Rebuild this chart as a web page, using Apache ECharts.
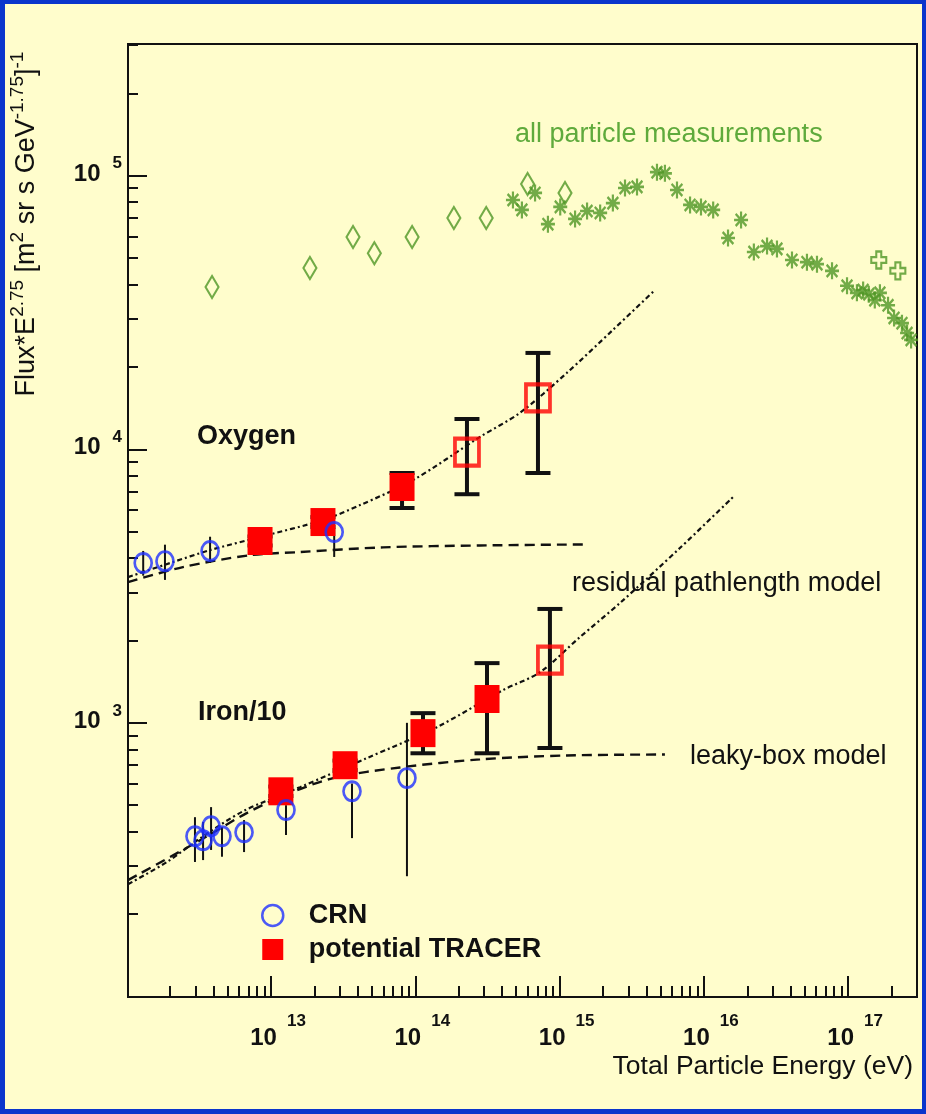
<!DOCTYPE html>
<html>
<head>
<meta charset="utf-8">
<title>Oxygen and iron spectra with TRACER reach</title>
<script src="https://cdn.jsdelivr.net/npm/echarts@6.0.0/dist/echarts.min.js"></script>
<style>
  html, body { margin: 0; padding: 0; background: #0a35cc; }
  #chart { width: 926px; height: 1114px; }
</style>
</head>
<body>
<div id="chart"></div>
<script>
// ---------------- data ----------------
// All-particle spectrum, Flux*E^2.75 vs total energy (eV)
const allDiamondEnergy = [3.9e12, 1.86e13, 3.7e13, 5.2e13, 9.5e13, 1.85e14, 3.1e14, 6.0e14, 1.09e15];
const allDiamondFlux   = [3.92e4, 4.6e4, 5.97e4, 5.21e4, 5.97e4, 7.0e4, 7.0e4, 9.33e4, 8.65e4];
const allStarEnergy = [4.75e14, 5.48e14, 6.76e14, 8.3e14, 1.01e15, 1.28e15, 1.55e15, 1.91e15, 2.34e15, 2.84e15,
                       3.44e15, 4.73e15, 5.37e15, 6.51e15, 8.02e15, 9.55e15, 1.16e16, 1.47e16, 1.81e16, 2.22e16,
                       2.74e16, 3.21e16, 4.08e16, 5.18e16, 6.08e16, 7.73e16, 9.82e16, 1.15e17, 1.27e17, 1.39e17,
                       1.53e17, 1.66e17, 1.89e17, 2.08e17, 2.36e17, 2.56e17, 2.73e17];
const allStarFlux   = [8.15e4, 7.5e4, 8.65e4, 6.65e4, 7.69e4, 6.95e4, 7.43e4, 7.31e4, 7.94e4, 9.02e4,
                       9.1e4, 1.03e5, 1.02e5, 8.87e4, 7.82e4, 7.69e4, 7.5e4, 5.92e4, 6.89e4, 5.26e4,
                       5.53e4, 5.4e4, 4.92e4, 4.83e4, 4.75e4, 4.49e4, 3.96e4, 3.73e4, 3.82e4, 3.69e4,
                       3.51e4, 3.73e4, 3.36e4, 3.02e4, 2.89e4, 2.66e4, 2.51e4];
const allCrossEnergy = [1.63e17, 2.21e17];
const allCrossFlux   = [4.92e4, 4.49e4];

// Oxygen
const oxygenCrnEnergy = [1.30e12, 1.84e12, 3.78e12, 2.74e13];
const oxygenCrnFlux   = [3.84e3, 3.90e3, 4.25e3, 4.98e3];
const oxygenCrnLow    = [3.45e3, 3.33e3, 3.84e3, 4.04e3];
const oxygenCrnHigh   = [4.25e3, 4.48e3, 4.79e3, 5.16e3];

const oxygenTracerEnergy = [8.39e12, 2.29e13, 8.09e13];
const oxygenTracerFlux   = [4.62e3, 5.42e3, 7.28e3];
const oxygenTracerLow    = [4.45e3, 5.2e3, 6.10e3];
const oxygenTracerHigh   = [4.8e3, 5.65e3, 8.19e3];
const oxygenProjEnergy = [2.28e14, 7.08e14];
const oxygenProjFlux   = [9.77e3, 1.54e4];
const oxygenProjLow    = [6.85e3, 8.19e3];
const oxygenProjHigh   = [1.29e4, 2.25e4];

const oxygenRisingEnergy = [1.02e12, 2.0e12, 3.78e12, 8.39e12, 2.29e13, 4.14e13, 9.64e13, 2.81e14, 5.32e14, 1.12e15, 2.34e15, 4.58e15];
const oxygenRisingFlux   = [3.41e3, 3.84e3, 4.28e3, 4.78e3, 5.51e3, 6.25e3, 7.71e3, 1.11e4, 1.36e4, 1.90e4, 2.73e4, 3.82e4];
const oxygenFlatEnergy = [1.02e12, 2.45e12, 7.14e12, 1.59e13, 5.97e13, 2.81e14, 1.55e15];
const oxygenFlatFlux   = [3.27e3, 3.71e3, 4.10e3, 4.21e3, 4.38e3, 4.45e3, 4.49e3];

// Iron (divided by 10)
const ironCrnEnergy = [2.97e12, 3.38e12, 3.84e12, 4.57e12, 6.50e12, 1.27e13, 3.64e13, 8.75e13];
const ironCrnFlux   = [385, 372, 419, 385, 398, 480, 562, 628];
const ironCrnLow    = [310, 315, 343, 324, 337, 389, 379, 275];
const ironCrnHigh   = [452, 434, 492, 416, 441, 500, 600, 1000];

const ironTracerEnergy = [1.17e13, 3.26e13, 1.13e14, 3.14e14];
const ironTracerFlux   = [562, 700, 917, 1222];
const ironTracerLow    = [540, 672, 774, 774];
const ironTracerHigh   = [585, 728, 1085, 1653];
const ironProjEnergy = [8.57e14];
const ironProjFlux   = [1694];
const ironProjLow    = [809];
const ironProjHigh   = [2608];

const ironRisingEnergy = [1.02e12, 1.90e12, 3.22e12, 6.40e12, 1.59e13, 4.62e13, 1.41e14, 4.06e14, 7.31e14, 1.38e15, 2.62e15, 6.82e15, 1.59e16];
const ironRisingFlux   = [257, 310, 378, 475, 582, 743, 964, 1318, 1531, 2056, 2741, 4355, 6683];
const ironFlatEnergy = [1.02e12, 3.22e12, 6.40e12, 1.15e13, 2.69e13, 7.83e13, 2.81e14, 1.12e15, 5.37e15];
const ironFlatFlux   = [266, 372, 460, 535, 628, 687, 735, 760, 766];

// Axes
const X_MIN = 1.02e12, X_MAX = 3.0e17;
const Y_MIN = 99.5, Y_MAX = 3.03e5;
const xTickExponents = [13, 14, 15, 16, 17];
const yTickExponents = [3, 4, 5];

// ---------------- helpers ----------------
const FONT = '"Liberation Sans", Arial, Helvetica, sans-serif';
const INK = '#111111';
const GREEN = '#4f9626';
const GREEN_TEXT = '#5faa3c';
const BLUE = '#1e30ff';
const RED = '#ff0000';

const zip = (xs, ys) => xs.map((x, i) => [x, ys[i]]);
const zip3 = (xs, a, b) => xs.map((x, i) => [x, a[i], b[i]]);
const powers = exps => exps.map(e => Math.pow(10, e));

function minorValues(lo, hi) {
  const out = [];
  for (let e = Math.floor(Math.log10(lo)); e <= Math.ceil(Math.log10(hi)); e++) {
    for (let m = 2; m <= 9; m++) {
      const v = m * Math.pow(10, e);
      if (v > lo && v < hi) out.push(v);
    }
  }
  return out;
}

// "10" with the decade exponent raised
function powerLabel(v) {
  const exp = Math.round(Math.log10(v));
  return '{b|10}{e|' + exp + '}';
}

function errorBars(capHalf, width) {
  return function (params, api) {
    const x = api.value(0);
    const lo = api.coord([x, api.value(1)]);
    const hi = api.coord([x, api.value(2)]);
    const style = { stroke: INK, lineWidth: width };
    const kids = [{ type: 'line', shape: { x1: lo[0], y1: lo[1], x2: hi[0], y2: hi[1] }, style: style }];
    if (capHalf > 0) {
      kids.push({ type: 'line', shape: { x1: lo[0] - capHalf, y1: lo[1], x2: lo[0] + capHalf, y2: lo[1] }, style: style });
      kids.push({ type: 'line', shape: { x1: hi[0] - capHalf, y1: hi[1], x2: hi[0] + capHalf, y2: hi[1] }, style: style });
    }
    return { type: 'group', children: kids };
  };
}

const STAR = 'path://M0 7L13 7M6.5 0L6.5 14M1.5 2L11.5 12M11.5 2L1.5 12';
const OPEN_CROSS = 'path://M4 0L8 0L8 4L12 4L12 8L8 8L8 12L4 12L4 8L0 8L0 4L4 4Z';
const SQUARE = 'path://M0 0L10 0L10 10L0 10Z';

const RISING_DASH = [5, 3, 2, 3];
const FLAT_DASH = [10, 6];

function curve(data, dash, width) {
  return {
    type: 'line', data: data, symbol: 'none', smooth: 0.3, silent: true,
    lineStyle: { color: INK, width: width, type: dash }, z: 2
  };
}

const axisRichX = {
  b: { fontSize: 24, fontWeight: 'bold', fontFamily: FONT, color: INK, padding: [13, 0, 0, 14], verticalAlign: 'bottom' },
  e: { fontSize: 17, fontWeight: 'bold', fontFamily: FONT, color: INK, padding: [0, 0, 0, 10], verticalAlign: 'top' }
};
const axisRichY = {
  b: { fontSize: 24, fontWeight: 'bold', fontFamily: FONT, color: INK, padding: [7, 0, 10, 0], verticalAlign: 'bottom' },
  e: { fontSize: 17, fontWeight: 'bold', fontFamily: FONT, color: INK, padding: [0, 0, 0, 12], verticalAlign: 'top' }
};

const xMajor = powers(xTickExponents);
const yMajor = powers(yTickExponents);
const xMinor = minorValues(X_MIN, X_MAX);
const yMinor = minorValues(Y_MIN, Y_MAX);

const axisLine = { show: true, onZero: false, lineStyle: { color: INK, width: 2 } };

const option = {
  animation: false,
  backgroundColor: '#0a35cc',
  grid: {
    left: 128, top: 44, right: 9, bottom: 117,
    show: true, borderColor: INK, borderWidth: 2, backgroundColor: 'transparent'
  },
  xAxis: [
    {
      type: 'log', logBase: 10, min: X_MIN, max: X_MAX, position: 'bottom',
      axisLine: axisLine,
      axisTick: { show: true, inside: true, length: 21, lineStyle: { color: INK, width: 2 }, customValues: xMajor },
      axisLabel: { show: true, customValues: xMajor, formatter: powerLabel, margin: 16, rich: axisRichX },
      splitLine: { show: false }, minorTick: { show: false }
    },
    {
      type: 'log', logBase: 10, min: X_MIN, max: X_MAX, position: 'bottom',
      axisLine: { show: false },
      axisTick: { show: true, inside: true, length: 11, lineStyle: { color: INK, width: 2 }, customValues: xMinor },
      axisLabel: { show: false }, splitLine: { show: false }
    }
  ],
  yAxis: [
    {
      type: 'log', logBase: 10, min: Y_MIN, max: Y_MAX, position: 'left',
      axisLine: axisLine,
      axisTick: { show: true, inside: true, length: 19, lineStyle: { color: INK, width: 2 }, customValues: yMajor },
      axisLabel: { show: true, customValues: yMajor, formatter: powerLabel, margin: 6, rich: axisRichY },
      splitLine: { show: false }, minorTick: { show: false }
    },
    {
      type: 'log', logBase: 10, min: Y_MIN, max: Y_MAX, position: 'left',
      axisLine: { show: false },
      axisTick: { show: true, inside: true, length: 10, lineStyle: { color: INK, width: 2 }, customValues: yMinor },
      axisLabel: { show: false }, splitLine: { show: false }
    }
  ],
  legend: {
    data: [
      { name: 'CRN', icon: 'circle', itemStyle: { color: 'rgba(0,0,0,0)', borderColor: BLUE, borderWidth: 2.5 } },
      { name: 'potential TRACER', icon: SQUARE, itemStyle: { color: RED, borderWidth: 0 } }
    ],
    orient: 'vertical', left: 261, top: 902, padding: 0,
    itemWidth: 62, itemHeight: 21, itemGap: 7, selectedMode: false, symbolKeepAspect: true,
    textStyle: { fontSize: 27, fontWeight: 'bold', fontFamily: FONT, color: INK }
  },
  graphic: [
    { type: 'rect', z: -100, silent: true, shape: { x: 5, y: 4, width: 917, height: 1105 }, style: { fill: '#fffdcc' } },
    { type: 'text', z: 100, x: 197, y: 437, style: { text: 'Oxygen', fontSize: 27, fontWeight: 'bold', fontFamily: FONT, fill: INK, align: 'left', verticalAlign: 'middle' } },
    { type: 'text', z: 100, x: 198, y: 713, style: { text: 'Iron/10', fontSize: 27, fontWeight: 'bold', fontFamily: FONT, fill: INK, align: 'left', verticalAlign: 'middle' } },
    { type: 'text', z: 100, x: 515, y: 135, style: { text: 'all particle measurements', fontSize: 27, fontFamily: FONT, fill: GREEN_TEXT, align: 'left', verticalAlign: 'middle' } },
    { type: 'text', z: 100, x: 572, y: 584, style: { text: 'residual pathlength model', fontSize: 27, fontFamily: FONT, fill: INK, align: 'left', verticalAlign: 'middle' } },
    { type: 'text', z: 100, x: 690, y: 757, style: { text: 'leaky-box model', fontSize: 27, fontFamily: FONT, fill: INK, align: 'left', verticalAlign: 'middle' } },
    { type: 'text', z: 100, x: 913, y: 1067, style: { text: 'Total Particle Energy (eV)', fontSize: 26.5, fontFamily: FONT, fill: INK, align: 'right', verticalAlign: 'middle' } },
    {
      type: 'text', z: 100, x: 24, y: 224, rotation: Math.PI / 2,
      style: {
        text: '{n|Flux*E}{s|2.75}{n| [m}{s|2}{n| sr s GeV}{s|-1.75}{n|]}{s|-1}',
        align: 'center', verticalAlign: 'middle', fill: INK,
        rich: {
          n: { fontSize: 27, fontFamily: FONT, fill: INK, padding: [5, 0, 0, 0], verticalAlign: 'bottom' },
          s: { fontSize: 19, fontFamily: FONT, fill: INK, verticalAlign: 'top' }
        }
      }
    }
  ],
  series: [
    // model curves
    curve(zip(oxygenRisingEnergy, oxygenRisingFlux), RISING_DASH, 2.2),
    curve(zip(oxygenFlatEnergy, oxygenFlatFlux), FLAT_DASH, 2.4),
    curve(zip(ironRisingEnergy, ironRisingFlux), RISING_DASH, 2.2),
    curve(zip(ironFlatEnergy, ironFlatFlux), FLAT_DASH, 2.4),

    // error bars
    {
      type: 'custom', silent: true, z: 3, renderItem: errorBars(0, 2),
      encode: { x: 0, y: [1, 2] },
      data: zip3(oxygenCrnEnergy, oxygenCrnLow, oxygenCrnHigh).concat(zip3(ironCrnEnergy, ironCrnLow, ironCrnHigh))
    },
    {
      type: 'custom', silent: true, z: 3, renderItem: errorBars(12.5, 4),
      encode: { x: 0, y: [1, 2] },
      data: zip3(oxygenTracerEnergy, oxygenTracerLow, oxygenTracerHigh)
        .concat(zip3(oxygenProjEnergy, oxygenProjLow, oxygenProjHigh))
        .concat(zip3(ironTracerEnergy, ironTracerLow, ironTracerHigh))
        .concat(zip3(ironProjEnergy, ironProjLow, ironProjHigh))
    },

    // TRACER points
    {
      name: 'potential TRACER', type: 'scatter', z: 4, symbol: 'rect', symbolSize: [25, 28],
      itemStyle: { color: RED, opacity: 1 },
      data: zip(oxygenTracerEnergy, oxygenTracerFlux).concat(zip(ironTracerEnergy, ironTracerFlux))
    },
    {
      name: 'TRACER projection', type: 'scatter', z: 4, symbol: 'rect', symbolSize: [24, 27],
      itemStyle: { color: 'rgba(0,0,0,0)', borderColor: RED, borderWidth: 4 },
      data: zip(oxygenProjEnergy, oxygenProjFlux).concat(zip(ironProjEnergy, ironProjFlux))
    },

    // CRN points
    {
      name: 'CRN', type: 'scatter', z: 5, symbol: 'circle', symbolSize: [17, 19],
      itemStyle: { color: 'rgba(0,0,0,0)', borderColor: BLUE, borderWidth: 2.8 },
      data: zip(oxygenCrnEnergy, oxygenCrnFlux).concat(zip(ironCrnEnergy, ironCrnFlux))
    },

    // all-particle measurements
    {
      name: 'all particle (diamond)', type: 'scatter', z: 5, symbol: 'diamond', symbolSize: [13, 22],
      itemStyle: { color: 'rgba(0,0,0,0)', borderColor: GREEN, borderWidth: 2.2 },
      data: zip(allDiamondEnergy, allDiamondFlux)
    },
    {
      name: 'all particle (star)', type: 'scatter', z: 5, symbol: STAR, symbolSize: [14, 17],
      itemStyle: { color: 'rgba(0,0,0,0)', borderColor: GREEN, borderWidth: 2.4 },
      data: zip(allStarEnergy, allStarFlux)
    },
    {
      name: 'all particle (cross)', type: 'scatter', z: 5, symbol: OPEN_CROSS, symbolSize: [15, 17],
      itemStyle: { color: 'rgba(0,0,0,0)', borderColor: GREEN, borderWidth: 2.2 },
      data: zip(allCrossEnergy, allCrossFlux)
    }
  ]
};

const chart = echarts.init(document.getElementById('chart'), null, { renderer: 'canvas' });
chart.setOption(option);
</script>
</body>
</html>
